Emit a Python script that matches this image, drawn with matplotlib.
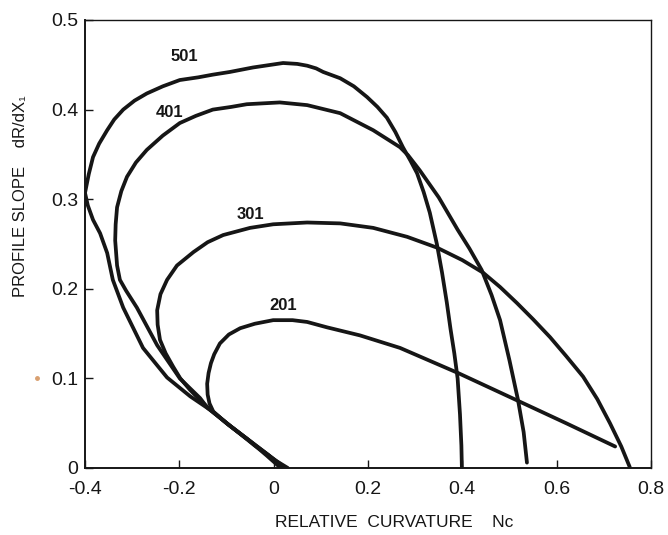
import matplotlib
matplotlib.use("Agg")
import matplotlib.pyplot as plt

plt.rcParams["font.family"] = ["Liberation Sans", "DejaVu Sans"]
plt.rcParams["axes.unicode_minus"] = False

# Profile slope vs. relative curvature for four profile families
series_names = ["501", "401", "301", "201"]

nc_501 = [0.030, 0.005, -0.040, -0.085, -0.135, -0.177, -0.226, -0.277, -0.319, -0.341,
          -0.353, -0.368, -0.383, -0.394, -0.400, -0.392, -0.383, -0.370, -0.353, -0.338,
          -0.319, -0.295, -0.269, -0.235, -0.199, -0.160, -0.129, -0.093, -0.044, 0.020,
          0.050, 0.071, 0.090, 0.105, 0.141, 0.170, 0.198, 0.220, 0.240, 0.258,
          0.274, 0.290, 0.304, 0.318, 0.331, 0.346, 0.357, 0.367, 0.375, 0.383,
          0.390, 0.395, 0.398, 0.399]
slope_501 = [0.000, 0.008, 0.025, 0.044, 0.065, 0.080, 0.101, 0.134, 0.179, 0.210,
             0.240, 0.262, 0.277, 0.293, 0.307, 0.328, 0.347, 0.362, 0.377, 0.389,
             0.400, 0.410, 0.418, 0.426, 0.433, 0.436, 0.439, 0.442, 0.447, 0.452,
             0.451, 0.449, 0.446, 0.442, 0.435, 0.426, 0.414, 0.403, 0.391, 0.375,
             0.358, 0.343, 0.329, 0.308, 0.285, 0.250, 0.218, 0.185, 0.155, 0.128,
             0.100, 0.060, 0.025, 0.001]

nc_401 = [0.025, -0.005, -0.045, -0.090, -0.140, -0.156, -0.199, -0.247, -0.290, -0.313,
          -0.326, -0.332, -0.336, -0.335, -0.332, -0.323, -0.311, -0.292, -0.269, -0.235,
          -0.199, -0.165, -0.129, -0.090, -0.057, 0.013, 0.071, 0.141, 0.211, 0.268,
          0.285, 0.310, 0.350, 0.390, 0.415, 0.441, 0.462, 0.480, 0.500, 0.518,
          0.530, 0.537]
slope_401 = [0.000, 0.012, 0.028, 0.046, 0.067, 0.078, 0.100, 0.137, 0.179, 0.198,
             0.210, 0.226, 0.254, 0.272, 0.291, 0.309, 0.325, 0.341, 0.355, 0.371,
             0.385, 0.393, 0.400, 0.403, 0.406, 0.408, 0.405, 0.396, 0.377, 0.358,
             0.349, 0.332, 0.302, 0.266, 0.245, 0.221, 0.193, 0.165, 0.120, 0.076,
             0.040, 0.006]

nc_301 = [0.020, -0.010, -0.050, -0.095, -0.145, -0.177, -0.198, -0.213, -0.229, -0.241,
          -0.246, -0.247, -0.240, -0.226, -0.205, -0.170, -0.140, -0.107, -0.050, -0.001,
          0.071, 0.141, 0.211, 0.283, 0.346, 0.400, 0.444, 0.480, 0.516, 0.550,
          0.586, 0.620, 0.656, 0.686, 0.713, 0.737, 0.755]
slope_301 = [0.000, 0.014, 0.030, 0.048, 0.070, 0.087, 0.100, 0.113, 0.128, 0.143,
             0.160, 0.176, 0.194, 0.210, 0.226, 0.241, 0.252, 0.260, 0.268, 0.272,
             0.274, 0.273, 0.268, 0.258, 0.246, 0.232, 0.218, 0.202, 0.184, 0.166,
             0.146, 0.125, 0.102, 0.077, 0.050, 0.024, 0.001]

nc_201 = [0.015, -0.015, -0.055, -0.100, -0.128, -0.136, -0.140, -0.141, -0.138, -0.133,
          -0.126, -0.114, -0.095, -0.071, -0.040, -0.001, 0.040, 0.071, 0.113, 0.183,
          0.268, 0.391, 0.522, 0.620, 0.724]
slope_201 = [0.000, 0.014, 0.032, 0.050, 0.063, 0.072, 0.082, 0.094, 0.106, 0.117,
             0.127, 0.139, 0.149, 0.156, 0.161, 0.165, 0.165, 0.163, 0.157, 0.148,
             0.134, 0.106, 0.074, 0.050, 0.024]

curves = [(nc_501, slope_501), (nc_401, slope_401), (nc_301, slope_301), (nc_201, slope_201)]
label_xy = [(-0.19, 0.459), (-0.22, 0.397), (-0.05, 0.283), (0.02, 0.181)]

x_ticks = [-0.4, -0.2, 0, 0.2, 0.4, 0.6, 0.8]
x_ticklabels = ["-0.4", "-0.2", "0", "0.2", "0.4", "0.6", "0.8"]
y_ticks = [0, 0.1, 0.2, 0.3, 0.4, 0.5]
y_ticklabels = ["0", "0.1", "0.2", "0.3", "0.4", "0.5"]

ink = "#161616"

fig = plt.figure(figsize=(6.68, 5.35), dpi=100)
ax = fig.add_axes([85 / 668, 67 / 535, 566 / 668, 448 / 535])

for (xs, ys), name, (lx, ly) in zip(curves, series_names, label_xy):
    ax.plot(xs, ys, color=ink, lw=2.7, solid_joinstyle="round",
            solid_capstyle="round")
    ax.text(lx, ly, name, ha="center", va="center", fontsize=12,
            fontweight="bold", color=ink)

ax.set_xlim(-0.4, 0.8)
ax.set_ylim(0, 0.5)
ax.set_xticks(x_ticks)
ax.set_xticklabels(x_ticklabels)
ax.set_yticks(y_ticks)
ax.set_yticklabels(y_ticklabels)
ax.tick_params(axis="both", direction="in", length=6, width=1.0, labelsize=14,
               colors=ink)
ax.tick_params(axis="x", pad=9)
ax.tick_params(axis="y", pad=5)

for side in ["left", "bottom"]:
    ax.spines[side].set_linewidth(1.4)
for side in ["top", "right"]:
    ax.spines[side].set_linewidth(1.0)
for sp in ax.spines.values():
    sp.set_color(ink)

ax.set_xlabel("RELATIVE  CURVATURE    Nc", fontsize=12.5, color=ink)
ax.xaxis.set_label_coords(0.546, -0.105)
ax.set_ylabel("PROFILE SLOPE    dR/dX\u2081", fontsize=12, color=ink)
ax.yaxis.set_label_coords(-0.101, 0.607)

# small orange speck left of the 0.1 tick label
fig.add_artist(plt.Line2D([37 / 668], [1 - 378 / 535], marker="o", markersize=2.5,
                          color="#d9a070", linestyle="none"))

fig.savefig("out.png", dpi=100)
